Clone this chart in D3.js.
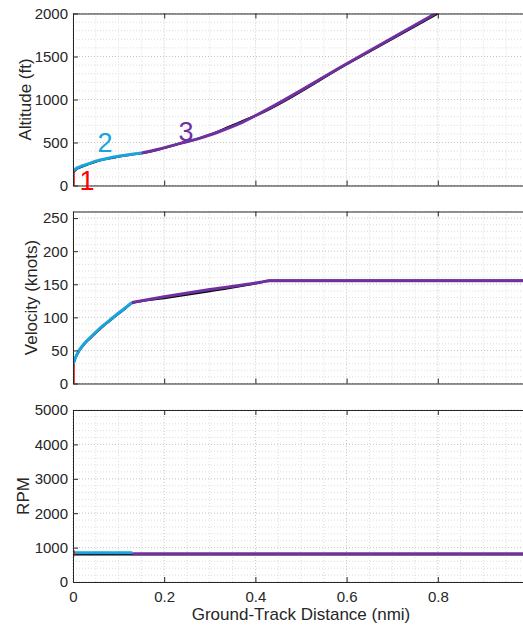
<!DOCTYPE html>
<html>
<head>
<meta charset="utf-8">
<script src="https://cdn.jsdelivr.net/npm/d3@7"></script>
<style>
  body { margin: 0; background: #fff; }
  text { font-family: "Liberation Sans", Arial, sans-serif; fill: #262626; }
</style>
</head>
<body>
<div id="chart"></div>
<script>
// ground-track distance (nmi) vs altitude / velocity / rpm, three phases + reference (black)
const xTicks = [0, 0.2, 0.4, 0.6, 0.8, 1];

const altRef  = [[0,150],[0.005,178],[0.015,210],[0.03,240],[0.05,278],[0.075,311],[0.1,336],[0.125,356],[0.151,375],[0.19,422],[0.235,488],[0.279,552],[0.32,632],[0.36,722],[0.41,834],[0.6,1408],[0.8,2000]];
const altSeg1 = [[0,0],[0,170]];
const altSeg2 = [[0,165],[0.005,190],[0.015,218],[0.03,245],[0.05,283],[0.075,315],[0.1,340],[0.125,360],[0.151,378]];
const altSeg3 = [[0.151,378],[0.19,425],[0.235,490],[0.279,551],[0.32,625],[0.366,722],[0.41,840],[0.6,1415],[0.795,2000]];

const velRef  = [[0,27],[0.004,36],[0.01,45],[0.023,58],[0.04,70],[0.052,78],[0.065,86],[0.081,95],[0.1,105.5],[0.115,113.5],[0.129,121.5],[0.2,129],[0.3,139.5],[0.41,152.5],[0.432,155.5],[1,155.5]];
const velSeg1 = [[0,0],[0,28]];
const velSeg2 = [[0,28],[0.004,37],[0.01,46],[0.023,59],[0.04,71],[0.052,79],[0.065,87],[0.081,96],[0.1,106.5],[0.115,114.5],[0.129,122.5]];
const velSeg3 = [[0.129,122.5],[0.2,131],[0.3,142],[0.41,153],[0.432,155.5],[1,155.5]];

const rpmRef  = [[0,800],[0.135,800],[1,800]];
const rpmSeg1 = [[0,750],[0,920]];
const rpmSeg2 = [[0,850],[0.13,850]];
const rpmSeg3 = [[0.13,820],[1,820]];

const phaseLabels = [
  {text: "1", x: 0.031, y: -10, color: "#ff0000"},
  {text: "2", x: 0.07,  y: 440, color: "#1aa3dc"},
  {text: "3", x: 0.248, y: 565, color: "#7030a0"}
];

const colRef = "#000000", col1 = "#ff0000", col2 = "#1aa3dc", col3 = "#7030a0";

const W = 523, H = 626;
const left = 73, plotW = 456, plotH = 172;

const svg = d3.select("#chart").append("svg")
  .attr("width", W).attr("height", H);

const x = d3.scaleLinear().domain([0, 1]).range([left, left + plotW]);

const panels = [
  {top: 13.5, ymax: 2000, yTicks: d3.range(0, 2001, 500), minor: 100, major: 500, label: "Altitude (ft)", labX: 25,
   series: [altRef, altSeg1, altSeg2, altSeg3]},
  {top: 211.5, ymax: 260, yTicks: d3.range(0, 251, 50), minor: 10, major: 50, label: "Velocity (knots)", labX: 31,
   series: [velRef, velSeg1, velSeg2, velSeg3]},
  {top: 410, ymax: 5000, yTicks: d3.range(0, 5001, 1000), minor: 200, major: 1000, label: "RPM", labX: 23,
   series: [rpmRef, rpmSeg1, rpmSeg2, rpmSeg3]}
];

panels.forEach((p, pi) => {
  const y = d3.scaleLinear().domain([0, p.ymax]).range([p.top + plotH, p.top]);
  const g = svg.append("g");

  // clip so lines stay in the box
  const clipId = "clip" + pi;
  svg.append("clipPath").attr("id", clipId)
    .append("rect").attr("x", left).attr("y", p.top).attr("width", plotW).attr("height", plotH);

  // minor grid
  const xMinor = d3.range(0, 1.0001, 0.05);
  const yMinor = d3.range(0, p.ymax + 0.001, p.minor);
  g.selectAll(".vmin").data(xMinor).join("line")
    .attr("x1", d => x(d)).attr("x2", d => x(d))
    .attr("y1", p.top).attr("y2", p.top + plotH)
    .attr("stroke", d => Math.abs(d / 0.2 - Math.round(d / 0.2)) < 1e-6 ? "#c4c4c4" : "#dcdcdc")
    .attr("stroke-dasharray", "1,2");
  g.selectAll(".hmin").data(yMinor).join("line")
    .attr("x1", left).attr("x2", left + plotW)
    .attr("y1", d => y(d)).attr("y2", d => y(d))
    .attr("stroke", d => d % p.major === 0 ? "#c4c4c4" : "#dcdcdc")
    .attr("stroke-dasharray", "1,2");

  // lines
  const line = d3.line().x(d => x(d[0])).y(d => y(d[1])).curve(d3.curveMonotoneX);
  const straight = d3.line().x(d => x(d[0])).y(d => y(d[1]));
  const lg = g.append("g").attr("clip-path", "url(#" + clipId + ")");
  lg.append("path").datum(p.series[0]).attr("d", line)
    .attr("fill", "none").attr("stroke", colRef).attr("stroke-width", 2.2);
  lg.append("path").datum(p.series[2]).attr("d", line)
    .attr("fill", "none").attr("stroke", col2).attr("stroke-width", 3);
  lg.append("path").datum(p.series[3]).attr("d", line)
    .attr("fill", "none").attr("stroke", col3).attr("stroke-width", 3);
  lg.append("path").datum(p.series[1]).attr("d", straight)
    .attr("fill", "none").attr("stroke", col1).attr("stroke-width", 3.5);

  // axes (ticks point inward, matlab style)
  const yAxis = d3.axisLeft(y).tickValues(p.yTicks).tickSizeInner(-5).tickSizeOuter(0).tickPadding(5)
    .tickFormat(d3.format("d"));
  const ya = g.append("g").attr("transform", `translate(${left},0)`).call(yAxis);
  const xAxisB = d3.axisBottom(x).tickValues(xTicks).tickSizeInner(-5).tickSizeOuter(0).tickPadding(9)
    .tickFormat(d => (pi === 2 && d < 1) ? d3.format("")(d) : "");
  const xb = g.append("g").attr("transform", `translate(0,${p.top + plotH})`).call(xAxisB);
  const xAxisT = d3.axisTop(x).tickValues(xTicks).tickSizeInner(-5).tickSizeOuter(0).tickFormat("");
  const xt = g.append("g").attr("transform", `translate(0,${p.top})`).call(xAxisT);

  [ya, xb, xt].forEach(a => {
    a.select(".domain").attr("stroke", "#262626").attr("stroke-width", 1);
    a.selectAll(".tick line").attr("stroke", "#262626");
    a.selectAll(".tick text").attr("fill", "#262626")
      .style("font-family", '"Liberation Sans", Arial, sans-serif').style("font-size", "15px");
  });

  // y label
  svg.append("text")
    .attr("transform", `translate(${p.labX},${p.top + plotH / 2}) rotate(-90)`)
    .attr("text-anchor", "middle").attr("dy", "0.35em")
    .style("font-size", "17px").text(p.label);

  if (pi === 0) {
    phaseLabels.forEach(l => {
      svg.append("text")
        .attr("x", x(l.x)).attr("y", y(l.y) + 4)
        .attr("text-anchor", "middle")
        .style("font-size", "27px").style("fill", l.color)
        .text(l.text);
    });
  }
});

svg.append("text")
  .attr("x", left + plotW / 2).attr("y", 620)
  .attr("text-anchor", "middle").style("font-size", "17px")
  .text("Ground-Track Distance (nmi)");
</script>
</body>
</html>
